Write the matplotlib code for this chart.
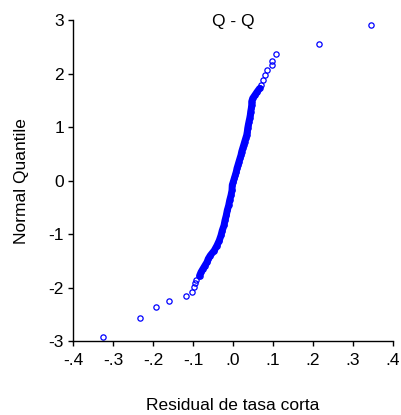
import matplotlib
matplotlib.use('Agg')
import matplotlib.pyplot as plt

plt.rcParams['font.family'] = ['Liberation Sans', 'DejaVu Sans']

# residual quantiles (x) vs normal quantiles (y)
# dense middle stretch, where the circles overlap into a solid band
band_x = [-0.0833, -0.080, -0.075, -0.070, -0.065, -0.0618, -0.0568, -0.0468,
          -0.040, -0.0343, -0.030, -0.0268, -0.0225, -0.020, -0.0168, -0.0143,
          -0.0108, -0.0083, -0.005, -0.0025, -0.0018, 0.0008, 0.0033, 0.0058,
          0.0083, 0.010, 0.0125, 0.015, 0.0175, 0.020, 0.0218, 0.0243, 0.0268,
          0.0293, 0.0318, 0.0343, 0.0358, 0.0368, 0.0383, 0.040, 0.0418, 0.0433,
          0.0443, 0.0458, 0.0468, 0.0468, 0.0493, 0.055, 0.0608, 0.0668]
band_y = [-1.773, -1.712, -1.648, -1.586, -1.524, -1.461, -1.399, -1.305,
          -1.212, -1.118, -1.024, -0.931, -0.837, -0.743, -0.650, -0.556,
          -0.463, -0.369, -0.275, -0.182, -0.082, -0.019, 0.043, 0.105,
          0.169, 0.230, 0.292, 0.356, 0.418, 0.479, 0.543, 0.605, 0.667,
          0.730, 0.792, 0.854, 0.918, 0.979, 1.041, 1.105, 1.167, 1.228,
          1.292, 1.354, 1.416, 1.479, 1.541, 1.603, 1.667, 1.728]

# the tails, where single circles can be told apart
tail_x = [-0.324, -0.233, -0.192, -0.159, -0.117, -0.102, -0.097, -0.095,
          -0.093, -0.084,
          0.069, 0.076, 0.081, 0.086, 0.098, 0.098, 0.1075, 0.216, 0.344]
tail_y = [-2.921, -2.560, -2.367, -2.247, -2.148, -2.073, -1.993, -1.910,
          -1.848, -1.787,
          1.785, 1.891, 1.985, 2.071, 2.159, 2.247, 2.365, 2.558, 2.921]

x_ticks = [-0.4, -0.3, -0.2, -0.1, 0.0, 0.1, 0.2, 0.3, 0.4]
x_labels = ['-.4', '-.3', '-.2', '-.1', '.0', '.1', '.2', '.3', '.4']
y_ticks = [-3, -2, -1, 0, 1, 2, 3]
y_labels = ['-3', '-2', '-1', '0', '1', '2', '3']

blue = '#0000ff'
fs = 12.5

fig = plt.figure(figsize=(4.01, 4.15), dpi=100)
ax = fig.add_axes([0.182, 0.178, 0.798, 0.773])

ax.plot(band_x, band_y, '-', color=blue, lw=5.0, solid_capstyle='round')
ax.plot(band_x, band_y, 'o', mfc='none', mec=blue, ms=3.8, mew=0.9)
ax.plot(tail_x, tail_y, 'o', mfc='none', mec=blue, ms=3.8, mew=0.9)

ax.set_xlim(-0.4, 0.4)
ax.set_ylim(-3, 3)
ax.set_xticks(x_ticks)
ax.set_xticklabels(x_labels)
ax.set_yticks(y_ticks)
ax.set_yticklabels(y_labels)

for s in ['top', 'right']:
    ax.spines[s].set_visible(False)
for s in ['left', 'bottom']:
    ax.spines[s].set_linewidth(1.0)
ax.tick_params(direction='out', length=3.5, width=1.0, labelsize=fs, colors='black')
ax.tick_params(axis='x', pad=5)
ax.tick_params(axis='y', pad=3)

ax.set_xlabel('Residual de tasa corta', fontsize=fs, labelpad=22)
ax.set_ylabel('Normal Quantile', fontsize=fs, labelpad=14)
ax.text(0.5, 0.997, 'Q - Q', transform=ax.transAxes, ha='center', va='center', fontsize=fs)

fig.savefig('out.png', dpi=100)
